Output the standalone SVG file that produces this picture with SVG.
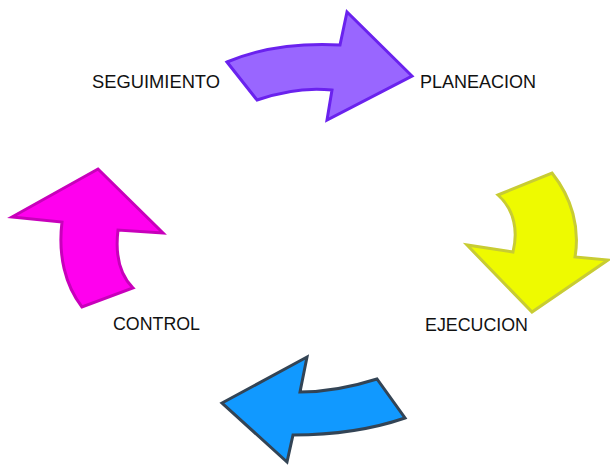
<svg xmlns="http://www.w3.org/2000/svg" width="610" height="465" viewBox="0 0 610 465">
<style>
.lbl{font-family:"Liberation Sans",Arial,sans-serif;font-size:18px;fill:#111}
.arr{stroke-width:3;stroke-linejoin:miter}
</style>
<rect width="610" height="465" fill="#fff"/>
<g id="arrows">
<path id="a-purple" class="arr" fill="#9966ff" stroke="#6a22ee" d="M227,62 C260,48 300,43 340,45 L347,12 L412,76 L327,120 L332,90 C305,87 280,92 257,100 Z"/>
<path id="a-yellow" class="arr" fill="#eefa00" stroke="#c8cc33" d="M498,195 L552,173 C572,198 580,228 575,257 L608,260 L532,312 L467,245 L513,252 C518,232 515,210 498,195 Z"/>
<path id="a-blue" class="arr" fill="#1199ff" stroke="#334455" d="M222,403 L307,357 L300,392 C330,392 355,386 377,379 L405,418 C370,430 330,435 293,435 L287,462 Z"/>
<path id="a-magenta" class="arr" fill="#ff00ee" stroke="#c800bb" d="M12,217 L98,169 L163,233 L118,230 C115,255 120,275 133,288 L82,307 C65,285 58,255 62,222 Z"/>
</g>
<g id="seguimiento"><text class="lbl" x="92" y="88" textLength="128" lengthAdjust="spacingAndGlyphs">SEGUIMIENTO</text></g>
<g id="planeacion"><text class="lbl" x="420" y="88" textLength="116" lengthAdjust="spacingAndGlyphs">PLANEACION</text></g>
<g id="control"><text class="lbl" x="113" y="330" textLength="87" lengthAdjust="spacingAndGlyphs">CONTROL</text></g>
<g id="ejecucion"><text class="lbl" x="425" y="331" textLength="103" lengthAdjust="spacingAndGlyphs">EJECUCION</text></g>
</svg>
